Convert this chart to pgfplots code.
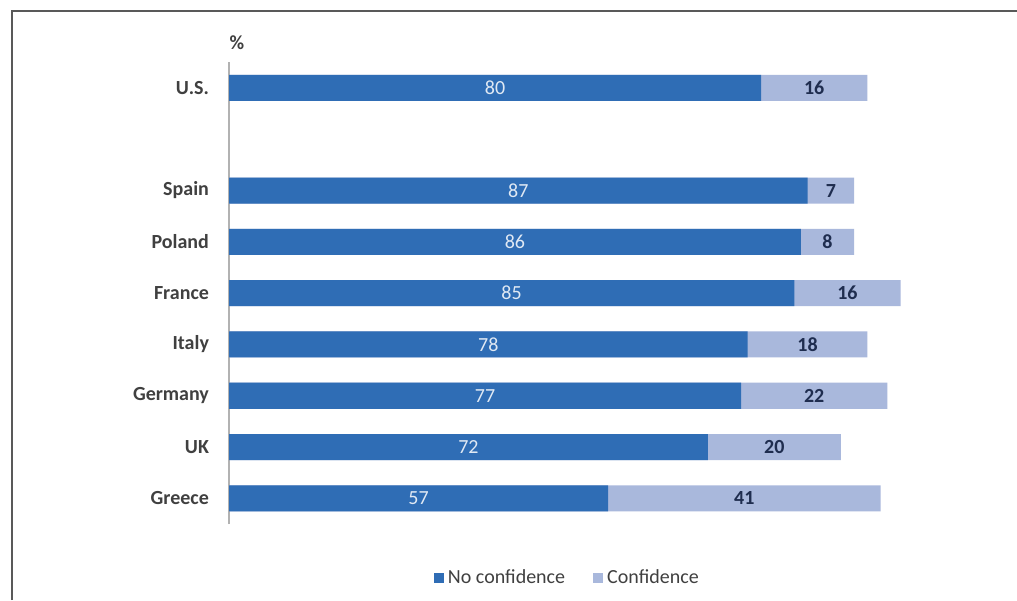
\documentclass[border=0pt]{standalone}
\usepackage{pgfplots}
\pgfplotsset{compat=1.18}
\usepackage{pgfplotstable}
\usepackage{fontspec}
\setmainfont{Carlito}
\definecolor{darkb}{HTML}{2F6DB5}
\definecolor{lightb}{HTML}{A9B8DC}
\definecolor{txt}{HTML}{404040}
\definecolor{navy}{HTML}{1F2D4F}
\pgfplotstableread{
y no conf
8 80 16
6 87 7
5 86 8
4 85 16
3 78 18
2 77 22
1 72 20
0 57 41
}\data
\begin{document}
\begin{tikzpicture}
\useasboundingbox (0pt,0pt) rectangle (508.5pt,300pt);
\fill[white] (0pt,0pt) rectangle (508.5pt,300pt);
\draw[color=black!65, line width=1.2pt] (6pt,0pt) -- (6pt,294.5pt) -- (508.5pt,294.5pt);
\node[font=\fontsize{10}{12}\selectfont\bfseries, text=txt] at (118.5pt,278.5pt) {\%};
\begin{axis}[
  at={(114.5pt,38pt)}, anchor=south west,
  x=3.325pt, y=25.65pt,
  xmin=0, xmax=105, ymin=-0.5, ymax=8.5,
  axis x line=none,
  axis y line*=left,
  y axis line style={draw=black!30, line width=0.6pt, -},
  ytick={0,1,2,3,4,5,6,8},
  yticklabels={Greece,UK,Germany,Italy,France,Poland,Spain,U.S.},
  major tick length=0pt,
  yticklabel style={font=\fontsize{10}{12}\selectfont\bfseries, text=txt, xshift=-6.5pt},
  /pgf/number format/assume math mode=true,
  legend style={at={(axis description cs:0.486,-0.117)}, anchor=center, draw=none,
    font=\fontsize{10}{12}\selectfont, text=txt, legend columns=2,
    /tikz/every even column/.append style={column sep=12pt}},
  legend image code/.code={\fill[#1] (0pt,-2.5pt) rectangle (5pt,2.5pt);},
]
% confidence segment drawn behind (from 0 to no+conf)
\addplot[xbar, bar width=13pt, bar shift=0pt, fill=lightb, draw=none, forget plot]
  table[x expr=\thisrow{no}+\thisrow{conf}, y=y] {\data};
\addplot[xbar, bar width=13pt, bar shift=0pt, fill=darkb, draw=none]
  table[x=no, y=y] {\data};
\addlegendentry{No confidence}
\addlegendimage{fill=lightb, draw=none}
\addlegendentry{Confidence}
% value labels at segment centres
\addplot[only marks, mark=none, point meta=explicit, nodes near coords,
  every node near coord/.append style={anchor=center, text=white!85!darkb,
    font=\fontsize{10}{12}\selectfont}, forget plot]
  table[x expr=\thisrow{no}/2, y=y, meta=no] {\data};
\addplot[only marks, mark=none, point meta=explicit, nodes near coords,
  every node near coord/.append style={anchor=center, text=navy,
    font=\fontsize{10}{12}\selectfont\bfseries}, forget plot]
  table[x expr=\thisrow{no}+\thisrow{conf}/2, y=y, meta=conf] {\data};
\end{axis}
\end{tikzpicture}
\end{document}
